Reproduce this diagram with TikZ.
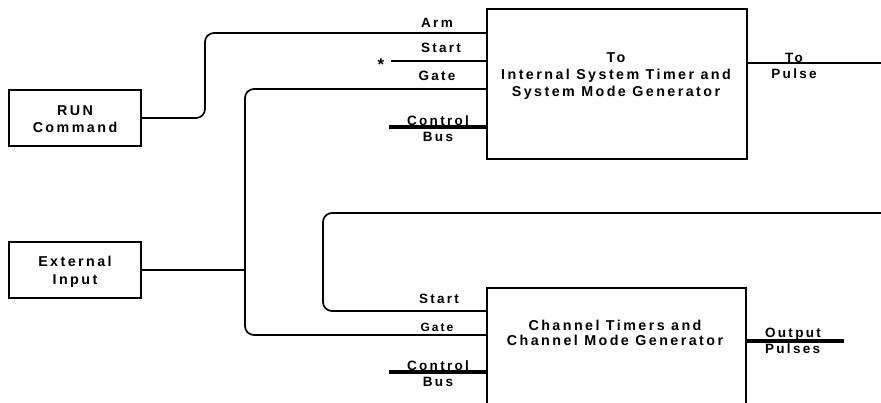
\documentclass[tikz,border=0pt]{standalone}
\usepackage{fontspec}
\newfontfamily\lblfont{Liberation Sans}[LetterSpace=17]
\begin{document}
\begin{tikzpicture}[x=1pt,y=-1pt,
  box/.style={draw,line width=1.8pt,inner sep=0pt},
  txt/.style={inner sep=0pt,align=center,font=\lblfont\bfseries\fontsize{14.3}{18}\selectfont},
  lbl/.style={inner sep=0pt,align=center,font=\lblfont\bfseries\fontsize{13.5}{16}\selectfont},
  small/.style={inner sep=0pt,font=\lblfont\bfseries\fontsize{12}{12}\selectfont},
  wire/.style={line width=1.7pt,rounded corners=9pt},
  bus/.style={line width=3.4pt}]
\useasboundingbox (0,0) rectangle (881,402);
\clip (0,0) rectangle (881,402);
% boxes
\node[box,minimum width=132,minimum height=56] (run) at (75,118) {};
\node[txt] (runT) at (75,119) {RUN\\[-1pt]Command};
\node[box,minimum width=132,minimum height=56] (ext) at (75,270) {};
\node[txt] (extT) at (75,272) {External\\Input};
\node[box,minimum width=260,minimum height=150] (sys) at (617,84) {};
\node[txt] (sysT) at (616,76) {To\\[-1pt]Internal System Timer and\\[-1pt]System Mode Generator};
\node[box,minimum width=259,minimum height=142] (chan) at (616.5,359) {};
\node[txt] (chanT) at (615,333) {Channel Timers and\\[-3pt]Channel Mode Generator};
% helper coordinates
\coordinate (armY) at (0,33);
\coordinate (startY) at (0,61);
\coordinate (gateY) at (0,89);
\coordinate (ctlY) at (0,127);
\coordinate (start2Y) at (0,311);
\coordinate (gate2Y) at (0,335);
\coordinate (ctl2Y) at (0,372);
\coordinate (pulseY) at (0,63);
\coordinate (outY) at (0,341);
\coordinate (startL) at (391,61);
\coordinate (ctlL) at (389,127);
\coordinate (ctl2L) at (389,372);
\coordinate (pulseEnd) at (881,63);
\coordinate (loopEnd) at (881,213);
\coordinate (outEnd) at (844,341);
\coordinate (junc) at (245,270);
% wires
\draw[wire] (run.east) -- (205,118) -- (205,33) -- (sys.west |- armY);
\draw[wire] (startL) -- (sys.west |- startY);
\draw[wire] (sys.west |- gateY) -- (245,89) -- (245,335) -- (chan.west |- gate2Y);
\draw[wire] (ext.east) -- (junc);
\draw[wire] (loopEnd) -- (323,213) -- (323,311) -- (chan.west |- start2Y);
\draw[wire] (sys.east |- pulseY) -- (pulseEnd);
\draw[bus] (ctlL) -- (sys.west |- ctlY);
\draw[bus] (ctl2L) -- (chan.west |- ctl2Y);
\draw[bus] (chan.east |- outY) -- (outEnd);
% labels
\node[lbl] (armT) at (437,23) {Arm};
\node[lbl] (startT) at (441,48) {Start};
\node[lbl] (gateT) at (437,76) {Gate};
\node[lbl] (ctlT) at (438,129) {Control\\Bus};
\node[font=\lblfont\bfseries\fontsize{17}{17}\selectfont,inner sep=0pt] (star) at (381,65) {*};
\node[lbl] (toT) at (794,66) {To\\Pulse};
\node[lbl] (start2T) at (439,299) {Start};
\node[small] (gate2T) at (437,327) {Gate};
\node[lbl] (ctl2T) at (438,374) {Control\\Bus};
\node[lbl,align=left] (outT) at (793,341) {Output\\Pulses};
\end{tikzpicture}
\end{document}
